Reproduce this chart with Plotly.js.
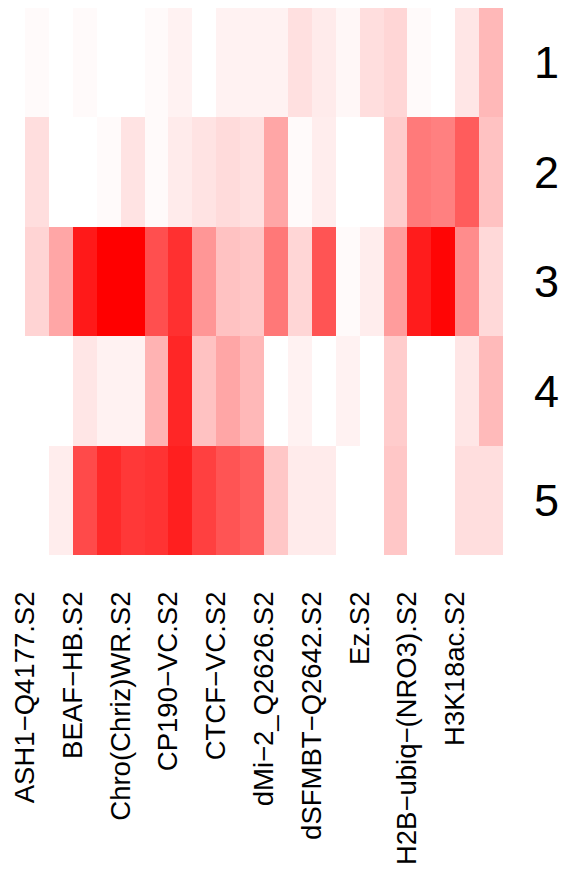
<!DOCTYPE html>
<html>
<head>
<meta charset="utf-8">
<script src="https://cdn.plot.ly/plotly-3.0.1.min.js"></script>
<style>html,body{margin:0;padding:0;background:#fff;}</style>
</head>
<body>
<div id="chart" style="width:565px;height:872px;"></div>
<script>
// Row (cluster) labels
const rowLabels = ['1', '2', '3', '4', '5'];
// Column tick labels (one label for every second column)
const colLabels = ['ASH1\u2212Q4177.S2', 'BEAF\u2212HB.S2', 'Chro(Chriz)WR.S2', 'CP190\u2212VC.S2',
  'CTCF\u2212VC.S2', 'dMi\u22122_Q2626.S2', 'dSFMBT\u2212Q2642.S2', 'Ez.S2',
  'H2B\u2212ubiq\u2212(NRO3).S2', 'H3K18ac.S2'];
// Column indices (20 columns)
const cols = [0,1,2,3,4,5,6,7,8,9,10,11,12,13,14,15,16,17,18,19];
// Values per row (0 = white, 1 = red)
const row1 = [0.02,0,0.02,0,0,0.02,0.05,0,0.05,0.05,0.05,0.12,0.08,0.03,0.13,0.16,0.02,0,0.10,0.28];
const row2 = [0.13,0,0,0.02,0.11,0.02,0.08,0.11,0.14,0.12,0.35,0.02,0.07,0,0,0.20,0.52,0.50,0.64,0.24];
const row3 = [0.17,0.35,0.90,1.0,1.0,0.69,0.81,0.41,0.24,0.22,0.53,0.16,0.67,0.02,0.07,0.39,0.89,0.98,0.45,0.15];
const row4 = [0,0,0.10,0.05,0.05,0.30,0.85,0.24,0.35,0.28,0,0.05,0,0.05,0,0.20,0,0,0.10,0.27];
const row5 = [0,0.07,0.71,0.84,0.78,0.80,0.88,0.75,0.67,0.63,0.22,0.08,0.08,0,0,0.22,0,0,0.13,0.13];

const z = [row1, row2, row3, row4, row5];
const tickPos = colLabels.map((_, i) => -0.5 + 2 * i);

const trace = {
  type: 'heatmap',
  x: cols,
  y: rowLabels,
  z: z,
  zmin: 0,
  zmax: 1,
  colorscale: [[0, '#FFFFFF'], [1, '#FF0000']],
  showscale: false,
  hoverinfo: 'skip'
};

const font = 'Liberation Sans, Arial, Helvetica, sans-serif';
const layout = {
  width: 565,
  height: 872,
  margin: {l: 25, r: 62, t: 8, b: 317, pad: 0},
  paper_bgcolor: '#ffffff',
  plot_bgcolor: '#ffffff',
  showlegend: false,
  xaxis: {
    range: [-0.5, 19.5],
    tickmode: 'array',
    tickvals: tickPos,
    ticktext: colLabels,
    tickangle: -90,
    ticks: '',
    ticklabelstandoff: 30,
    tickfont: {family: font, size: 27.5, color: '#000000'},
    showgrid: false,
    zeroline: false,
    showline: false,
    fixedrange: true
  },
  yaxis: {
    type: 'category',
    autorange: 'reversed',
    side: 'right',
    ticks: '',
    ticklabelstandoff: 30,
    tickfont: {family: font, size: 45, color: '#000000'},
    showgrid: false,
    zeroline: false,
    showline: false,
    fixedrange: true
  }
};

Plotly.newPlot('chart', [trace], layout, {displayModeBar: false, staticPlot: true});
</script>
</body>
</html>
